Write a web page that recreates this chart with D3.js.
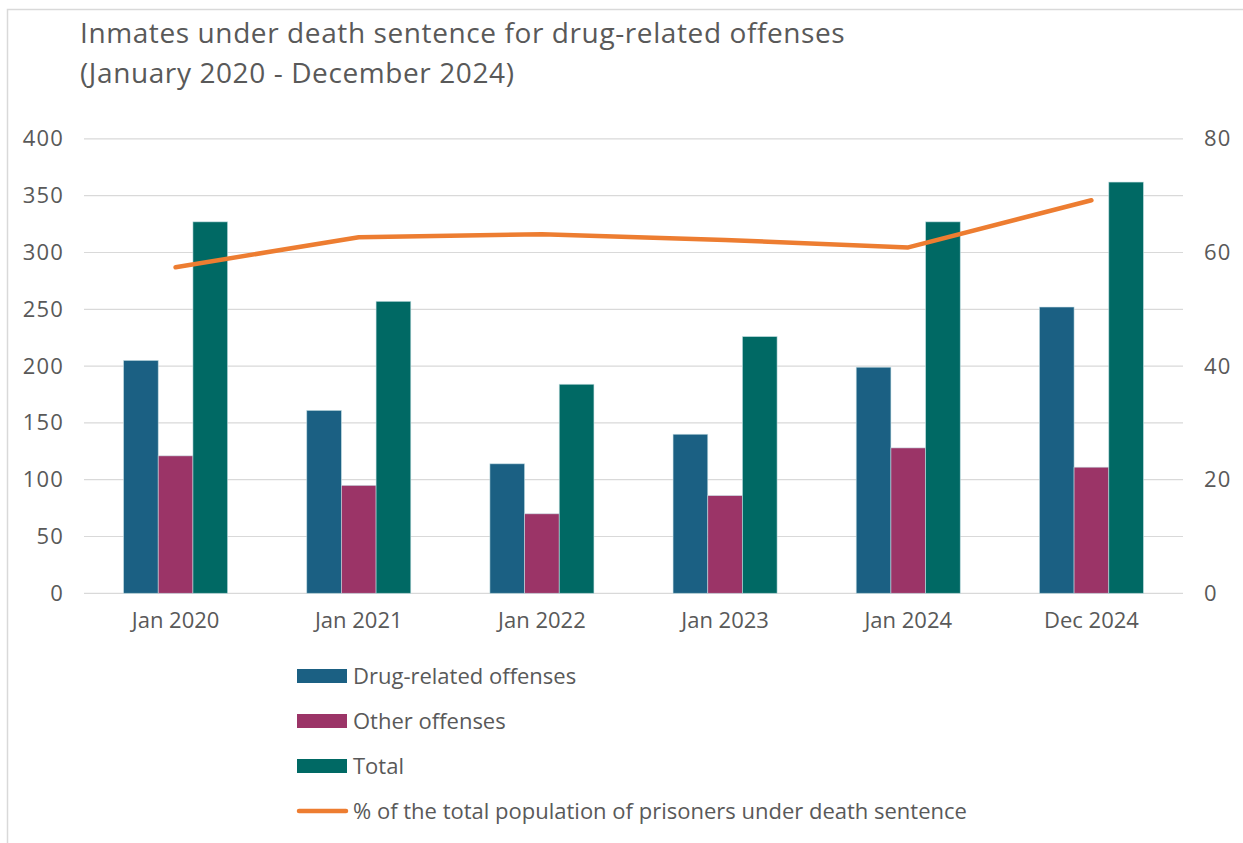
<!DOCTYPE html>
<html>
<head>
<meta charset="utf-8">
<script src="https://cdn.jsdelivr.net/npm/d3@7"></script>
<style>
  html, body { margin: 0; padding: 0; background: #fff; }
  svg { display: block; }
  text { font-family: "Open Sans", "Noto Sans", sans-serif; fill: #595959; }
</style>
</head>
<body>
<svg id="chart" width="1243" height="843"></svg>
<script>
// ---- data ----
const categories = ["Jan 2020", "Jan 2021", "Jan 2022", "Jan 2023", "Jan 2024", "Dec 2024"];
const drugRelated = [205, 161, 114, 140, 199, 252];
const otherOffenses = [121, 95, 70, 86, 128, 111];
const total = [327, 257, 184, 226, 327, 362];
const percentDrug = [57.4, 62.7, 63.2, 62.2, 60.9, 69.2];
const leftTicks = [0, 50, 100, 150, 200, 250, 300, 350, 400];
const rightTicks = [0, 20, 40, 60, 80];
const seriesNames = ["Drug-related offenses", "Other offenses", "Total"];
const lineName = "% of the total population of prisoners under death sentence";
const titleLines = ["Inmates under death sentence for drug-related offenses", "(January 2020 - December 2024)"];

// ---- styles ----
const colors = { "Drug-related offenses": "#1B6083", "Other offenses": "#9B3467", "Total": "#006964" };
const lineColor = "#ED7D31";

const svg = d3.select("#chart");

// chart border
svg.append("rect").attr("x", 7.5).attr("y", 9.5).attr("width", 1250).attr("height", 850)
  .attr("fill", "#fff").attr("stroke", "#D9D9D9").attr("stroke-width", 1.5);

// title
const title = svg.append("text").attr("x", 80).attr("y", 43).attr("font-size", 28)
  .attr("letter-spacing", 0.6);
title.append("tspan").attr("x", 80).attr("y", 43).text(titleLines[0]);
title.append("tspan").attr("x", 80).attr("y", 83).text(titleLines[1]);

const plot = { left: 84, right: 1183, top: 138.9, bottom: 593.3 };

const x = d3.scaleBand().domain(categories).range([plot.left, plot.right])
  .paddingInner(0.432).paddingOuter(0.216);
const xs = d3.scaleBand().domain(seriesNames).range([0, x.bandwidth()]);
const yL = d3.scaleLinear().domain([0, 400]).range([plot.bottom, plot.top]);
const yR = d3.scaleLinear().domain([0, 80]).range([plot.bottom, plot.top]);

// gridlines
svg.append("g").selectAll("line").data(leftTicks).join("line")
  .attr("x1", plot.left).attr("x2", plot.right)
  .attr("y1", d => yL(d)).attr("y2", d => yL(d))
  .attr("stroke", "#D9D9D9").attr("stroke-width", 1.2);

// left axis
const axL = svg.append("g").attr("transform", `translate(${plot.left},0)`)
  .call(d3.axisLeft(yL).tickValues(leftTicks).tickSize(0).tickPadding(20));
axL.select(".domain").remove();
axL.selectAll("text").attr("font-size", 22).attr("letter-spacing", 1.2)
  .attr("font-family", null).attr("fill", "#595959");

// right axis
const axR = svg.append("g").attr("transform", `translate(${plot.right},0)`)
  .call(d3.axisRight(yR).tickValues(rightTicks).tickSize(0).tickPadding(21));
axR.select(".domain").remove();
axR.selectAll("text").attr("font-size", 22).attr("letter-spacing", 1.2)
  .attr("font-family", null).attr("fill", "#595959");

// bars
const rows = categories.map((c, i) => ({ cat: c, vals: [drugRelated[i], otherOffenses[i], total[i]] }));
const groups = svg.append("g").selectAll("g").data(rows).join("g")
  .attr("transform", d => `translate(${x(d.cat)},0)`);
groups.selectAll("rect").data(d => d.vals.map((v, j) => ({ key: seriesNames[j], v })))
  .join("rect")
  .attr("x", d => xs(d.key))
  .attr("width", xs.bandwidth())
  .attr("y", d => yL(d.v))
  .attr("height", d => yL(0) - yL(d.v))
  .attr("fill", d => colors[d.key])
  .attr("stroke", "rgba(200,225,230,0.7)").attr("stroke-width", 0.8);

// x axis labels
const axX = svg.append("g").attr("transform", `translate(0,${plot.bottom})`)
  .call(d3.axisBottom(x).tickSize(0).tickPadding(19));
axX.select(".domain").remove();
axX.selectAll("text").attr("font-size", 22).attr("font-family", null).attr("fill", "#595959");

// line
const line = d3.line()
  .x((d, i) => x(categories[i]) + x.bandwidth() / 2)
  .y(d => yR(d));
svg.append("path").datum(percentDrug).attr("d", line)
  .attr("fill", "none").attr("stroke", lineColor).attr("stroke-width", 4.5)
  .attr("stroke-linecap", "round").attr("stroke-linejoin", "round");

// legend
const legendItems = [
  { name: seriesNames[0], type: "rect" },
  { name: seriesNames[1], type: "rect" },
  { name: seriesNames[2], type: "rect" },
  { name: lineName, type: "line" }
];
const legY = d3.scalePoint().domain(legendItems.map(d => d.name)).range([676, 811]);
const leg = svg.append("g").selectAll("g").data(legendItems).join("g")
  .attr("transform", d => `translate(297,${legY(d.name)})`);
leg.filter(d => d.type === "rect").append("rect")
  .attr("x", 0).attr("y", -7).attr("width", 50).attr("height", 14)
  .attr("fill", d => colors[d.name]);
leg.filter(d => d.type === "line").append("line")
  .attr("x1", 2).attr("x2", 49).attr("y1", 0).attr("y2", 0)
  .attr("stroke", lineColor).attr("stroke-width", 4.5).attr("stroke-linecap", "round");
leg.append("text").attr("x", 56).attr("y", 0).attr("dy", "0.35em")
  .attr("font-size", 22).text(d => d.name);
</script>
</body>
</html>
